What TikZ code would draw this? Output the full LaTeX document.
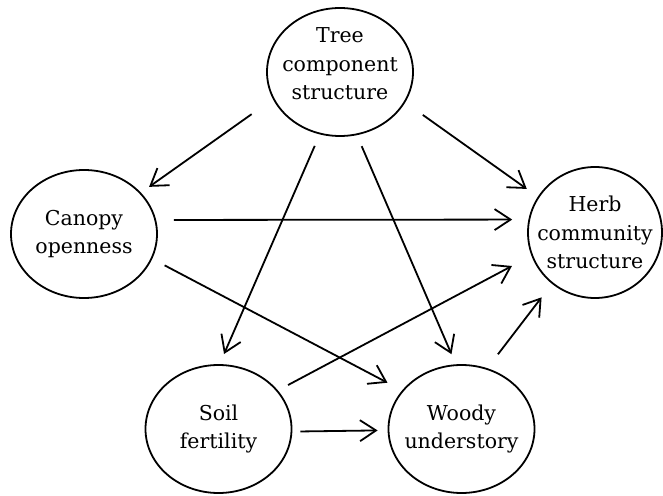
\documentclass[tikz,border=0pt]{standalone}
\usepackage{fontspec}
\setmainfont{DejaVu Serif}
\usetikzlibrary{arrows.meta}
\usetikzlibrary{shapes.geometric}

\begin{document}
\begin{tikzpicture}[x=1pt, y=1pt, line width=1.8pt, >={Straight Barb[length=16pt,width=21pt]},
    var/.style={ellipse, draw, minimum width=146pt, minimum height=128pt, inner xsep=-15pt, inner ysep=0pt,
      align=center, font=\fontsize{20.5}{28.5}\selectfont}]
    \useasboundingbox (0,0) rectangle (663,495);

    \node[var] (tree) at (340,423) {Tree\\component\\structure\rule[-16pt]{0pt}{0pt}};
    \node[var] (canopy) at (84,261) {Canopy\\openness};
    \node[var, minimum width=134pt, minimum height=131pt] (herb) at (595,262.5) {Herb\\community\\structure};
    \node[var] (soil) at (218.5,66) {Soil\\fertility};
    \node[var] (woody) at (461.5,66) {Woody\\understory};

    \draw[->, shorten <=26pt, shorten >=10pt] (tree.202) -- (canopy.36);
    \draw[->, shorten <=21.5pt, shorten >=13.5pt] (tree.335) -- (herb.148);
    \draw[->, shorten <=12.5pt, shorten >=11pt] (tree.252) -- (soil.89);
    \draw[->, shorten <=12pt, shorten >=11pt] (tree.285.6) -- (woody.95.5);
    \draw[->, shorten <=17.7pt, shorten >=16.2pt] (canopy.11.3) -- (herb.169.4);
    \draw[->, shorten <=14pt, shorten >=16.5pt] (canopy.340) -- (woody.147);
    \draw[->, shorten <=11.5pt, shorten >=22pt] (soil.33.5) -- (herb.200);
    \draw[->, shorten <=8pt, shorten >=10pt] (soil.358.4) -- (woody.181.6);
    \draw[->, shorten <=17.5pt, shorten >=17pt] (woody.67.6) -- (herb.230.2);
  \end{tikzpicture}
\end{document}
